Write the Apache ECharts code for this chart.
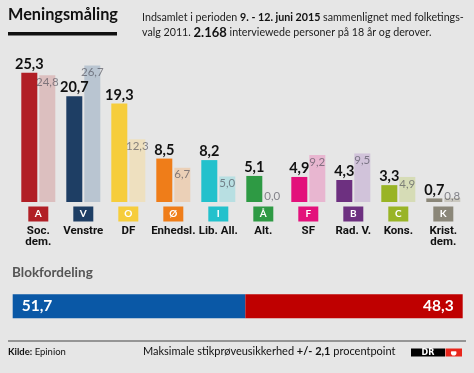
<!DOCTYPE html>
<html>
<head>
<meta charset="utf-8">
<script src="https://cdn.jsdelivr.net/npm/echarts@6/dist/echarts.min.js"></script>
<style>
html,body{margin:0;padding:0;background:#e6e6e6;}
#c{width:474px;height:373px;}
</style>
</head>
<body>
<div id="c"></div>
<script>
const categories = ['Soc.\ndem.', 'Venstre', 'DF', 'Enhedsl.', 'Lib. All.', 'Alt.', 'SF', 'Rad. V.', 'Kons.', 'Krist.\ndem.'];
const letters = ['A', 'V', 'O', 'Ø', 'I', 'Å', 'F', 'B', 'C', 'K'];
const poll2015 = [25.3, 20.7, 19.3, 8.5, 8.2, 5.1, 4.9, 4.3, 3.3, 0.7];
const election2011 = [24.8, 26.7, 12.3, 6.7, 5.0, 0.0, 9.2, 9.5, 4.9, 0.8];
const blocNames = ['Blå blok', 'Rød blok'];
const blocValues = [51.7, 48.3];

const mainColors = ['#b11f26', '#1e3e64', '#f6cd3c', '#ef7d19', '#23c1cc', '#2e9a44', '#e3117b', '#6d3080', '#99b426', '#8b8779'];
const lightColors = ['#dcbfbf', '#b9c5d1', '#eee0bf', '#ebd0b7', '#b8dfe2', '#bfdcc5', '#e8b6d0', '#d1c3da', '#d6dcb6', '#cac8bf'];
const blocColors = ['#0a58a6', '#bf0000'];

const fmt = v => v.toFixed(1).replace('.', ',');
const FONT = 'Lato';
const NARROW = 'Roboto';

const rich = {
  n: {fontFamily: NARROW, fontWeight: 'bold', fontSize: 11.5, lineHeight: 11, color: '#111'},
  sp: {fontSize: 4, lineHeight: 4}
};
letters.forEach((l, i) => {
  rich['b' + i] = {backgroundColor: mainColors[i], color: '#fff', fontFamily: FONT, fontWeight: 'bold',
    fontSize: 10, width: 20, height: 15, lineHeight: 15, align: 'center'};
});

const chart = echarts.init(document.getElementById('c'));
chart.setOption({
  backgroundColor: '#e6e6e6',
  animation: false,
  grid: [
    {left: 15.8, width: 450, top: 48.7, bottom: 171},
    {left: 12.7, right: 11.3, top: 294.3, height: 24}
  ],
  xAxis: [
    {type: 'category', gridIndex: 0, data: categories,
      axisLine: {show: false}, axisTick: {show: false},
      axisLabel: {interval: 0, margin: 4.5, align: 'center',
        formatter: (v, i) => '{b' + i + '|' + letters[i] + '}\n{sp| }\n' + v.split('\n').map(s => '{n|' + s + '}').join('\n'),
        rich: rich}},
    {type: 'value', gridIndex: 1, min: 0, max: 100, show: false}
  ],
  yAxis: [
    {type: 'value', gridIndex: 0, min: 0, max: 30, show: false, splitLine: {show: false}},
    {type: 'category', gridIndex: 1, data: ['Blok'], show: false}
  ],
  series: [
    {type: 'bar', name: '2015', xAxisIndex: 0, yAxisIndex: 0, barWidth: 16, barGap: '12.5%',
      data: poll2015.map((v, i) => ({value: v, itemStyle: {color: mainColors[i]}})),
      label: {show: true, position: 'top', distance: 1, formatter: p => fmt(p.value),
        fontFamily: FONT, fontWeight: 'bold', fontSize: 14.5, color: '#111'}},
    {type: 'bar', name: '2011', xAxisIndex: 0, yAxisIndex: 0, barWidth: 16,
      data: election2011.map((v, i) => ({value: v, itemStyle: {color: lightColors[i]},
        label: v < 2 ? {position: 'insideBottom', distance: 0} : {position: 'insideTop', distance: 1}})),
      label: {show: true, formatter: p => fmt(p.value),
        fontFamily: FONT, fontSize: 11.5, color: 'rgba(70,70,80,0.62)'}},
    {type: 'bar', name: blocNames[0], xAxisIndex: 1, yAxisIndex: 1, stack: 'b', barWidth: 24,
      data: [blocValues[0]], itemStyle: {color: blocColors[0]},
      label: {show: true, position: 'insideLeft', distance: 9, formatter: p => fmt(p.value),
        fontFamily: FONT, fontWeight: 'bold', fontSize: 15.5, color: '#fff'}},
    {type: 'bar', name: blocNames[1], xAxisIndex: 1, yAxisIndex: 1, stack: 'b', barWidth: 24,
      data: [blocValues[1]], itemStyle: {color: blocColors[1]},
      label: {show: true, position: 'insideRight', distance: 9, formatter: p => fmt(p.value),
        fontFamily: FONT, fontWeight: 'bold', fontSize: 15.5, color: '#fff'}}
  ],
  graphic: [
    {type: 'text', left: 8, top: 6.5, style: {text: 'Meningsmåling', font: 'bold 16.3px Lato', fill: '#111'}},
    {type: 'rect', shape: {x: 8, y: 32, width: 109, height: 3.5}, style: {fill: '#111'}},
    {type: 'text', left: 142, top: 10, style: {
      text: 'Indsamlet i perioden {b|9. - 12. juni 2015} sammenlignet med folketings-\nvalg 2011. {bb|2.168} interviewede personer på 18 år og derover.',
      font: '10.7px Lato', fill: '#222', lineHeight: 15,
      rich: {b: {fontWeight: 'bold', fontSize: 10.7, fontFamily: FONT, fill: '#111'},
             bb: {fontWeight: 'bold', fontSize: 13, fontFamily: FONT, fill: '#111'}}}},
    {type: 'text', left: 12, top: 266, style: {text: 'Blokfordeling', font: 'bold 13.5px Lato', fill: '#555'}},
    {type: 'line', shape: {x1: 8, y1: 341, x2: 466, y2: 341}, style: {stroke: '#444', lineWidth: 1}},
    {type: 'text', left: 8, top: 347, style: {
      text: '{k|Kilde:} Epinion', font: '9.5px Lato', fill: '#111',
      rich: {k: {fontWeight: 'bold', fontSize: 9.5, fontFamily: FONT}}}},
    {type: 'text', left: 143, top: 346, style: {
      text: 'Maksimale stikprøveusikkerhed {b|+/- 2,1} procentpoint', font: '11px Lato', fill: '#111',
      rich: {b: {fontWeight: 'bold', fontSize: 11, fontFamily: FONT}}}},
    {type: 'rect', shape: {x: 411, y: 348.5, width: 34, height: 8}, style: {fill: '#000'}},
    {type: 'text', x: 428, y: 352.8, style: {text: 'DR', font: 'bold 8px "DejaVu Sans"', fill: '#fff', align: 'center', verticalAlign: 'middle'}},
    {type: 'rect', shape: {x: 445.5, y: 348.5, width: 16.5, height: 8}, style: {fill: '#e8261c'}},
    {type: 'circle', shape: {cx: 453.7, cy: 352.8, r: 2.8}, style: {fill: '#fff'}},
    {type: 'rect', shape: {x: 450.5, y: 349.3, width: 6.4, height: 2}, style: {fill: '#e8261c'}}
  ]
});
</script>
</body>
</html>
